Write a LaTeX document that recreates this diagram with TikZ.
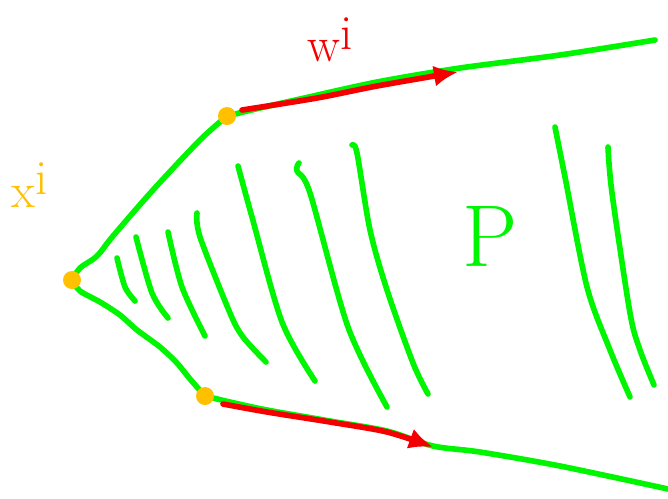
\documentclass[tikz,border=0pt]{standalone}
\usetikzlibrary{arrows.meta}
\definecolor{pen}{RGB}{0,245,0}
\definecolor{ink}{RGB}{245,0,0}
\definecolor{gold}{RGB}{255,192,0}
\tikzset{
  edge/.style={pen, line width=3.2pt, line cap=round, line join=round},
  dirarrow/.style={ink, line width=3.2pt, line cap=round, line join=round, -{Latex[length=0.48cm,width=0.42cm]}},
  vertex/.style={circle, fill=gold, inner sep=0pt, minimum size=0.36cm},
  hand/.style={font=\fontsize{28}{28}\selectfont},
}
\begin{document}
\begin{tikzpicture}[x=0.02cm, y=-0.02cm]
  \useasboundingbox (0,0) rectangle (668,498);
  % --- 顶点与边界端点 ---
  \coordinate (x) at (72,280);
  \coordinate (a) at (227,116);
  \coordinate (b) at (205,396);
  \coordinate (ae) at (655,40);
  \coordinate (be) at (668,489);
  % --- 多面体边界 ---
  \draw[edge] plot[smooth, tension=0.5] coordinates {(x) (80,268) (97,256) (113,236) (153,190) (200,140) (a)};
  \draw[edge] plot[smooth, tension=0.5] coordinates {(x) (80,291) (100,302) (120,315) (137,330) (160,347) (177,363) (190,379) (b)};
  \draw[edge] plot[smooth, tension=0.5] coordinates {(a) (260,108) (300,99) (377,82) (460,68) (560,55) (ae)};
  \draw[edge] plot[smooth, tension=0.5] coordinates {(b) (230,402) (267,410) (330,421) (387,431) (433,446) (480,452) (560,466) (be)};
  % --- 内部阴影线 ---
  \draw[edge] plot[smooth, tension=0.5] coordinates {(117,258) (125,287) (135,301)};
  \draw[edge] plot[smooth, tension=0.5] coordinates {(136,237) (152,293) (168,318)};
  \draw[edge] plot[smooth, tension=0.5] coordinates {(168,232) (182,287) (205,336)};
  \draw[edge] plot[smooth, tension=0.5] coordinates {(197,213) (200,237) (230,313) (243,337) (266,362)};
  \draw[edge] plot[smooth, tension=0.5] coordinates {(238,166) (252,217) (282,322) (315,381)};
  \draw[edge] plot[smooth, tension=0.5] coordinates {(299,163) (297,171) (310,193) (348,327) (387,407)};
  \draw[edge] plot[smooth, tension=0.5] coordinates {(352,145) (357,153) (370,230) (387,290) (413,363) (428,394)};
  \draw[edge] plot[smooth, tension=0.5] coordinates {(555,127) (565,177) (587,287) (610,350) (630,397)};
  \draw[edge] plot[smooth, tension=0.5] coordinates {(608,147) (612,193) (630,313) (640,350) (654,385)};
  % --- 方向 w_i ---
  \coordinate (wa) at (242,110);
  \coordinate (wb) at (458,72);
  \coordinate (va) at (223,404);
  \coordinate (vb) at (433,447);
  \draw[dirarrow] plot[smooth, tension=0.5] coordinates {(wa) (317,98) (377,86) (wb)};
  \draw[dirarrow] plot[smooth, tension=0.5] coordinates {(va) (267,412) (330,422) (387,432) (vb)};
  % --- 顶点 ---
  \node[vertex] (xi) at (x) {};
  \node[vertex] (vA) at (a) {};
  \node[vertex] (vB) at (b) {};
  % --- 标注 ---
  \node[hand, ink] (wlabel) at (330,40) {w\raisebox{0.25em}{i}};
  \node[hand, gold] (xlabel) at (30,185) {x\raisebox{0.25em}{i}};
  \node[pen, font=\fontsize{50}{50}\selectfont] (plabel) at (490,236) {P};
\end{tikzpicture}
\end{document}
